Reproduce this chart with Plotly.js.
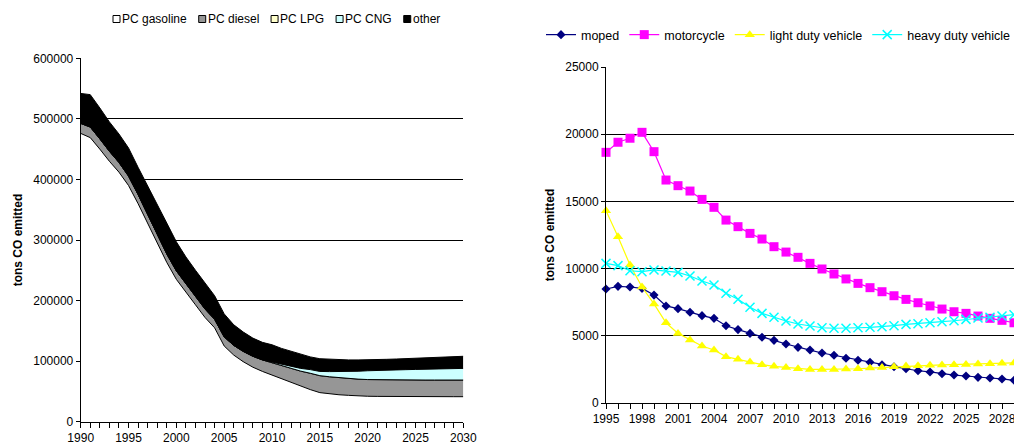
<!DOCTYPE html>
<html><head><meta charset="utf-8">
<script src="https://cdn.plot.ly/plotly-3.0.1.min.js"></script>
<style>html,body{margin:0;padding:0;background:#fff;}#chart{width:1014px;height:447px;}</style>
</head><body><div id="chart"></div>
<script>
// ---- Left chart: passenger cars, stacked areas (tons CO) ----
const pcYears = [1990,1991,1992,1993,1994,1995,1996,1997,1998,1999,2000,2001,2002,2003,2004,2005,2006,2007,2008,2009,2010,2011,2012,2013,2014,2015,2016,2017,2018,2019,2020,2021,2022,2023,2024,2025,2026,2027,2028,2029,2030];
const pcGasoline = [476000,469000,450000,430000,412000,390000,360000,328000,297000,263000,235000,213000,193000,172000,155000,125000,110000,99000,90000,83000,77000,70000,64000,58000,53000,48000,46000,44500,43500,42500,42000,41800,41600,41500,41400,41300,41300,41300,41300,41300,41300];
const pcDiesel = [16500,17500,17000,16500,16000,15500,15000,14500,14000,14000,14000,14000,14000,14000,14000,15000,16000,17000,18000,19000,20500,22000,24000,25500,27000,28000,28200,28200,28000,27800,27600,27500,27500,27500,27500,27500,27500,27500,27500,27500,27500];
const pcLPG = [0,0,0,0,0,0,0,0,0,0,0,0,0,0,0,0,0,0,0,0,0,0,0,0,0,0,0,0,0,0,0,0,0,0,0,0,0,0,0,0,0];
const pcCNG = [0,0,0,0,0,0,0,0,0,0,0,0,0,0,0,0,0,0,0,0,1000,2000,3000,4500,6000,7000,8500,10000,11500,13000,14500,15500,16000,16500,17000,17500,18000,18500,18800,19000,19200];
const pcOther = [49500,53500,51000,48500,47000,46500,45000,47500,49000,51000,48000,45000,43000,42000,39000,38000,34000,32000,30000,29000,28500,27000,25000,23000,21000,21000,20300,19800,19000,18700,17900,17700,17900,18000,18100,18200,18200,18700,18900,19200,20000];
const pcNames = ['PC gasoline','PC diesel','PC LPG','PC CNG','other'];
const pcColors = ['#FFFFFF','#969696','#FFFFCC','#CCFFFF','#000000'];

// ---- Right chart: other vehicle types (tons CO) ----
const vehYears = [1995,1996,1997,1998,1999,2000,2001,2002,2003,2004,2005,2006,2007,2008,2009,2010,2011,2012,2013,2014,2015,2016,2017,2018,2019,2020,2021,2022,2023,2024,2025,2026,2027,2028,2029];
const moped = [8480,8680,8630,8530,8030,7220,7020,6750,6500,6300,5750,5460,5180,4890,4660,4390,4140,3940,3720,3550,3330,3180,3030,2850,2700,2550,2400,2310,2180,2080,2010,1910,1860,1790,1690];
const motorcycle = [18650,19400,19700,20140,18700,16590,16170,15770,15150,14560,13610,13120,12620,12200,11630,11230,10840,10390,9970,9600,9230,8900,8580,8280,7980,7710,7460,7220,6990,6790,6670,6470,6300,6150,5970];
const lightDuty = [14310,12370,10270,8630,7370,5970,5180,4690,4240,3940,3450,3250,3050,2850,2730,2650,2550,2500,2500,2500,2530,2550,2600,2650,2700,2750,2770,2800,2830,2850,2870,2900,2920,2950,2980];
const heavyDuty = [10390,10220,9840,9770,9900,9820,9720,9450,9080,8780,8160,7720,7120,6670,6380,6100,5880,5730,5600,5560,5560,5600,5630,5680,5750,5850,5900,5970,6050,6120,6220,6320,6380,6470,6570];
const vehNames = ['moped','motorcycle','light duty vehicle','heavy duty vehicle'];
const vehColors = ['#000080','#FF00FF','#FFFF00','#00FFFF'];
const vehSymbols = ['diamond','square','triangle-up','x-thin-open'];
const vehMarkerSizes = [7, 9, 9, 9];

const W = 1014, H = 447;
const FONT = 'Liberation Sans, Arial, sans-serif';
const pcSeries = [pcGasoline, pcDiesel, pcLPG, pcCNG, pcOther];
const vehSeries = [moped, motorcycle, lightDuty, heavyDuty];

const traces = [];
pcSeries.forEach((vals, i) => {
  traces.push({
    type: 'scatter', mode: 'lines', x: pcYears, y: vals, name: pcNames[i],
    stackgroup: 'pc', line: {color: '#000000', width: 1}, fillcolor: pcColors[i],
    xaxis: 'x', yaxis: 'y', showlegend: false, hoverinfo: 'x+y+name'
  });
});
vehSeries.forEach((vals, i) => {
  traces.push({
    type: 'scatter', mode: 'lines+markers', x: vehYears, y: vals, name: vehNames[i],
    line: {color: vehColors[i], width: 1.2},
    marker: {symbol: vehSymbols[i], size: vehMarkerSizes[i], color: vehColors[i],
             line: {color: vehColors[i], width: i === 3 ? 1.5 : 0}},
    xaxis: 'x2', yaxis: 'y2', cliponaxis: false, legend: 'legend'
  });
});

// left legend: boxes + labels laid out from measured text widths
const ctx = document.createElement('canvas').getContext('2d');
ctx.font = '12px "Liberation Sans"';
const shapes = [], annotations = [];
let lx = 113;
const legY = 19, box = 7;
pcNames.forEach((nm, i) => {
  shapes.push({type: 'rect', xref: 'paper', yref: 'paper',
    x0: lx / W, x1: (lx + box) / W, y0: (H - legY - box / 2) / H, y1: (H - legY + box / 2) / H,
    line: {color: '#000', width: 1}, fillcolor: pcColors[i]});
  annotations.push({xref: 'paper', yref: 'paper', x: (lx + box + 1) / W, y: (H - legY) / H,
    xanchor: 'left', yanchor: 'middle', showarrow: false, text: nm,
    font: {family: FONT, size: 12, color: '#000'}, borderpad: 0});
  lx += box + 3 + ctx.measureText(nm).width + 11;
});

const axBase = {
  ticks: 'outside', tickcolor: '#000', tickwidth: 1, showline: true, linecolor: '#000', linewidth: 1,
  zeroline: false, tickformat: 'd', fixedrange: true, ticklabeloverflow: 'allow',
  tickfont: {family: FONT, size: 12, color: '#000'}
};

const layout = {
  width: W, height: H,
  margin: {l: 0, r: 0, t: 0, b: 0, autoexpand: false},
  paper_bgcolor: '#fff', plot_bgcolor: 'rgba(0,0,0,0)',
  font: {family: FONT, size: 12, color: '#000'},
  showlegend: true,
  xaxis: Object.assign({}, axBase, {domain: [80.7 / W, 463.3 / W], range: [1990, 2030], tick0: 1990, dtick: 5,
    ticklen: 5, showgrid: false, anchor: 'y',
    minor: {dtick: 1, tick0: 1990, ticks: 'outside', ticklen: 5, tickcolor: '#000', showgrid: false}}),
  yaxis: Object.assign({}, axBase, {domain: [(H - 421.7) / H, (H - 58.3) / H], range: [0, 600000], dtick: 100000,
    ticklen: 4, showgrid: true, gridcolor: '#000', gridwidth: 1, anchor: 'x',
    title: {text: '<b>tons CO emitted</b>', standoff: 8, font: {family: FONT, size: 12, color: '#000'}}}),
  xaxis2: Object.assign({}, axBase, {domain: [606 / W, 1], range: [1995, 2029], tick0: 1995, dtick: 3,
    ticklen: 5, showgrid: false, anchor: 'y2',
    minor: {dtick: 1, tick0: 1995, ticks: 'outside', ticklen: 5, tickcolor: '#000', showgrid: false}}),
  yaxis2: Object.assign({}, axBase, {domain: [(H - 403) / H, (H - 67) / H], range: [0, 25000], dtick: 5000,
    ticklen: 4, showgrid: true, gridcolor: '#000', gridwidth: 1, anchor: 'x2',
    title: {text: '<b>tons CO emitted</b>', standoff: 8, font: {family: FONT, size: 12, color: '#000'}}}),
  legend: {orientation: 'h', traceorder: 'normal', x: 541 / W, xanchor: 'left', y: (H - 35) / H, yanchor: 'middle',
    bgcolor: 'rgba(0,0,0,0)', borderwidth: 0, itemwidth: 30, font: {family: FONT, size: 12.5, color: '#000'},
    itemclick: false, itemdoubleclick: false},
  shapes: shapes,
  annotations: annotations
};

Plotly.newPlot('chart', traces, layout, {displayModeBar: false, staticPlot: true});
</script>
</body></html>
